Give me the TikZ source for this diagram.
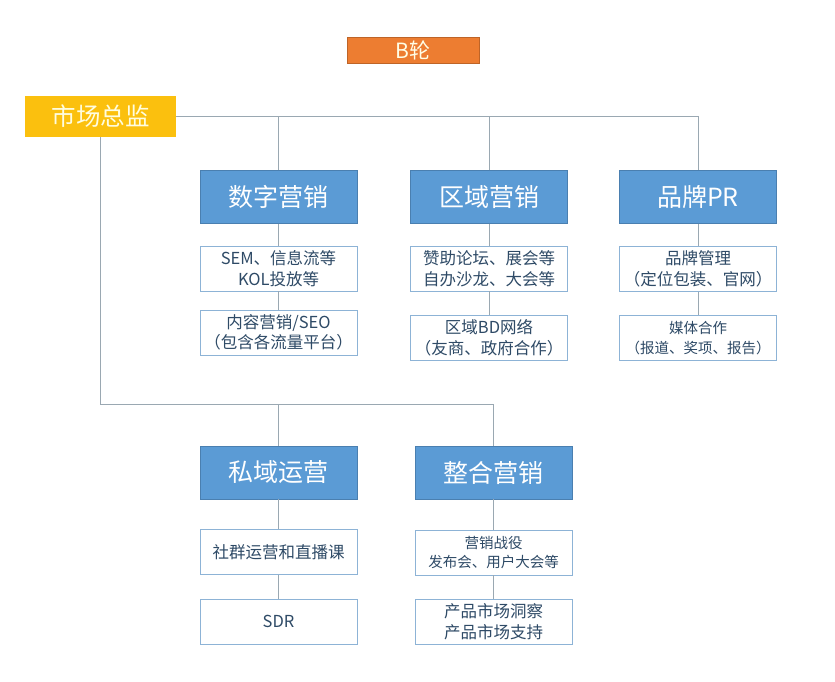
\documentclass[tikz,border=0pt]{standalone}
\usepackage{fontspec}
\setmainfont{Noto Sans CJK SC}
\usepackage{tikz}
\usetikzlibrary{calc}
\definecolor{bluebox}{HTML}{5B9BD5}
\definecolor{blueedge}{HTML}{4A7FB0}
\definecolor{subedge}{HTML}{8DB3D6}
\definecolor{subtext}{HTML}{2E4A66}
\definecolor{linkgray}{HTML}{9AA8B2}
\definecolor{roundorange}{HTML}{ED7D31}
\definecolor{headgold}{HTML}{FBC00E}
\tikzset{
  headbox/.style={draw=blueedge, fill=bluebox, text=white, minimum width=157pt, minimum height=53pt, inner sep=0pt, font=\fontsize{25}{28}\selectfont},
  subbox/.style={draw=subedge, fill=white, text=subtext, minimum width=157pt, minimum height=45pt, inner sep=0pt, align=center, font=\fontsize{16.5}{20.5}\selectfont},
  smallsub/.style={subbox, font=\fontsize{14.5}{19.5}\selectfont},
  link/.style={draw=linkgray, line width=1pt}
}
\begin{document}
\begin{tikzpicture}[x=1pt, y=-1pt]
\useasboundingbox (0,0) rectangle (835,681);
\node[fill=roundorange, draw=roundorange!80!black, text=white!90!yellow, minimum width=132pt, minimum height=26pt, inner sep=0pt, font=\fontsize{21}{24}\selectfont] (lun) at (413,50) {B轮};
\node[fill=headgold, text=white!88!yellow, minimum width=151pt, minimum height=41pt, inner sep=0pt, font=\fontsize{24.5}{27}\selectfont] (zj) at (100.5,116.5) {市场总监};
\node[headbox] (sz) at (278.5,197) {数字营销};
\node[headbox] (qy) at (489,197) {区域营销};
\node[headbox] (pp) at (698,197) {品牌PR};
\node[subbox] (sz1) at (278.5,268.5) {SEM、信息流等\\KOL投放等};
\node[subbox] (sz2) at (278.5,332.5) {内容营销/SEO\\（包含各流量平台）};
\node[subbox] (qy1) at (489,268.5) {赞助论坛、展会等\\自办沙龙、大会等};
\node[subbox] (qy2) at (489,337.5) {区域BD网络\\（友商、政府合作）};
\node[subbox] (pp1) at (698,269) {品牌管理\\（定位包装、官网）};
\node[smallsub] (pp2) at (698,338) {媒体合作\\（报道、奖项、报告）};
\node[headbox] (sy) at (278.5,472.5) {私域运营};
\node[headbox] (zh) at (493.5,472.5) {整合营销};
\node[subbox] (sy1) at (278.5,552) {社群运营和直播课};
\node[subbox] (sy2) at (278.5,621.5) {SDR};
\node[smallsub] (zh1) at (493.5,552.5) {营销战役\\发布会、用户大会等};
\node[subbox] (zh2) at (493.5,621.5) {产品市场洞察\\产品市场支持};
\coordinate (bus) at (493.5,404);
\draw[link] (zj.east) -| (pp.north);
\draw[link] (sz.north) -- (sz.north |- zj.east);
\draw[link] (qy.north) -- (qy.north |- zj.east);
\draw[link] (zj.south) |- (bus) -- (zh.north);
\draw[link] (sy.north) -- (sy.north |- bus);
\foreach \a/\b in {sz/sz1, sz1/sz2, qy/qy1, qy1/qy2, pp/pp1, pp1/pp2, sy/sy1, sy1/sy2, zh/zh1, zh1/zh2}
  \draw[link] (\a.south) -- (\b.north);
\end{tikzpicture}
\end{document}
